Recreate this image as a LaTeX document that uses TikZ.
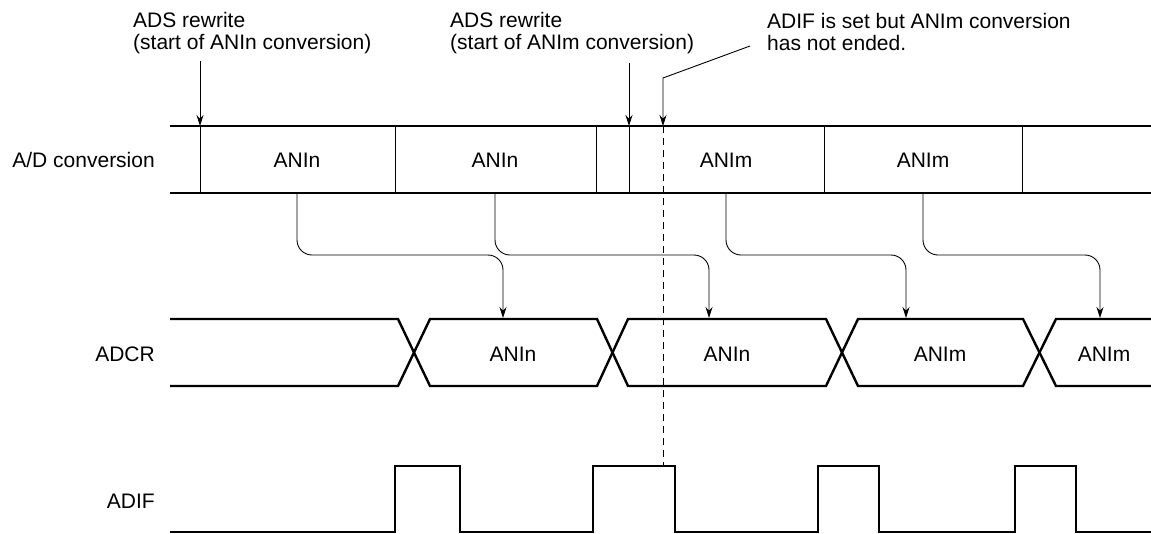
\documentclass[tikz,border=0pt]{standalone}
\usepackage{fontspec}
\setmainfont{Liberation Sans}
\usetikzlibrary{arrows.meta}

\begin{document}
\begin{tikzpicture}[x=1pt,y=-1pt,font=\fontsize{21}{22}\selectfont,
    every node/.style={inner sep=0pt},
    bus/.style={line width=2.4pt},
    thinline/.style={line width=0.9pt},
    pointer/.style={line width=0.9pt,-{Stealth[length=11pt,width=7pt]}},
    link/.style={pointer,rounded corners=15pt},
    rowname/.style={anchor=base east},
    cellname/.style={anchor=base},
    note/.style={anchor=base west,align=left}]
\useasboundingbox (0,0) rectangle (1151,533);

% ---------- notes (anchored at the last line) ----------
\node[note] (note1) at (133,49) {ADS rewrite\\(start of ANIn conversion)};
\node[note] (note2) at (450,49) {ADS rewrite\\(start of ANIm conversion)};
\node[note] (note3) at (767,50) {ADIF is set but ANIm conversion\\has not ended.};

\coordinate (tail1) at (200,61);
\coordinate (tail2) at (629,63);
\coordinate (tail3) at (750,46);
\coordinate (knee3) at (663,78);
\coordinate (hit1) at (200,126);
\coordinate (hit2) at (629,126);
\coordinate (hit3) at (663,126);

\draw[pointer] (tail1) -- (hit1);
\draw[pointer] (tail2) -- (hit2);
\draw[pointer] (tail3) -- (knee3) -- (hit3);

% ---------- A/D conversion ----------
\node[rowname] (adname) at (155,167) {A/D conversion};
\draw[bus] (170,126) -- (1151,126);
\draw[bus] (170,193) -- (1151,193);
\foreach \x in {200,395,596,629,824,1022}{
    \draw[thinline] (\x,126) -- (\x,193);
}
\foreach \x/\t [count=\i] in {297/ANIn,495/ANIn,726/ANIm,923/ANIm}{
    \node[cellname] (cell\i) at (\x,167) {\t};
    \coordinate (src\i) at (\x,193);
}

% ---------- ADCR ----------
\node[rowname] (regname) at (155,361) {ADCR};
\draw[bus] (170,319) -- (398,319) -- (430,386) -- (597,386) -- (628,319) -- (826,319)
    -- (858,386) -- (1023,386) -- (1056,319) -- (1151,319);
\draw[bus] (170,386) -- (398,386) -- (430,319) -- (597,319) -- (628,386) -- (826,386)
    -- (858,319) -- (1023,319) -- (1056,386) -- (1151,386);
\foreach \x/\t [count=\i] in {513/ANIn,727/ANIn,940/ANIm,1104/ANIm}{
    \node[cellname] (reg\i) at (\x,361) {\t};
}
\foreach \x [count=\i] in {503,709,906,1100}{
    \coordinate (dst\i) at (\x,318);
}

% connectors from conversion to register
\coordinate (linkrow) at (0,255);
\foreach \i in {1,...,4}{
    \draw[link] (src\i) -- (src\i |- linkrow) -- (dst\i |- linkrow) -- (dst\i);
}

% ---------- ADIF ----------
\node[rowname] (flagname) at (155,508) {ADIF};
\draw[bus] (170,532) -| (395,466) -| (460,532) -| (593,466) -| (675,532)
    -| (818,466) -| (879,532) -| (1015,466) -| (1076,532) -- (1151,532);

% dashed marker down to ADIF
\coordinate (flagtop) at (663,466);
\draw[thinline,dash pattern=on 7pt off 5pt] (hit3) -- (flagtop);

\end{tikzpicture}
\end{document}
